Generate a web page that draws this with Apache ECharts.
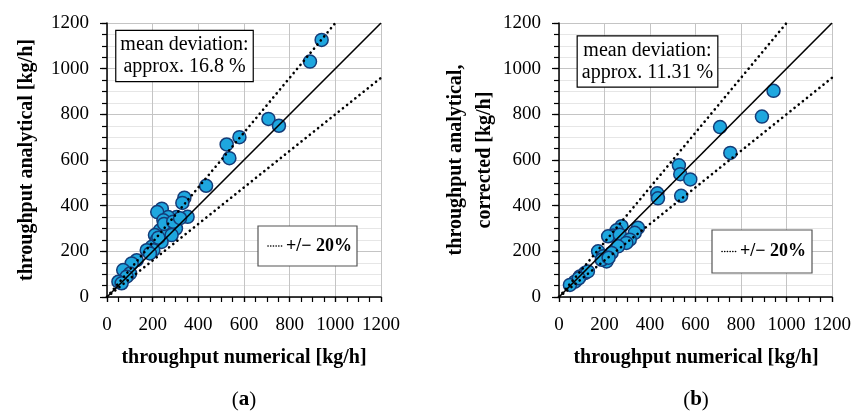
<!DOCTYPE html>
<html>
<head>
<meta charset="utf-8">
<script src="https://cdn.jsdelivr.net/npm/echarts@6/dist/echarts.min.js"></script>
<style>
html,body{margin:0;padding:0;background:#fff;}
#chart{width:854px;height:418px;}
</style>
</head>
<body>
<div id="chart"></div>
<script>
// throughput numerical vs analytical [kg/h]
const pointsA = [
  [940,1126],[889,1031],[707,780],[753,750],[580,700],[524,668],[536,608],[434,487],
  [339,435],[330,412],[240,387],[220,372],[353,351],[305,350],[268,350],[247,336],
  [268,314],[302,300],[232,292],[261,278],[283,271],[210,271],[218,249],[239,241],
  [196,220],[203,205],[174,205],[188,191],[130,161],[108,147],[71,118],[101,103],
  [86,89],[50,67],[64,60],[250,320],[290,330],[225,260],[320,345]
];
const pointsB = [
  [943,903],[892,790],[708,744],[753,631],[527,577],[533,538],[577,515],[537,443],
  [432,454],[435,432],[347,303],[333,281],[275,310],[253,292],[238,269],[216,266],
  [267,273],[311,251],[296,237],[260,222],[231,193],[172,200],[194,178],[209,156],
  [188,163],[218,172],[114,105],[92,90],[70,67],[48,53],[127,112],[87,82]
];
const deviations = ['16.8', '11.31'];
const band = 0.2;
const axisMax = 1200;
const tickStep = 200;
const minorStep = 50;

const font = 'Liberation Serif';
const grids = [
  {left:107, top:23, width:274, height:274},
  {left:559, top:23, width:274, height:274}
];

const xAxes = [], yAxes = [], series = [];
grids.forEach((g, i) => {
  xAxes.push({
    gridIndex:i, type:'value', min:0, max:axisMax, interval:tickStep,
    axisLine:{lineStyle:{color:'#000', width:1.5}},
    axisTick:{inside:false, length:5, lineStyle:{color:'#000', width:1.2}},
    axisLabel:{color:'#000', fontFamily:font, fontSize:19, margin:19, formatter:v => String(v)},
    splitLine:{show:true, lineStyle:{color:'#c4c4c4', width:1}}
  });
  xAxes.push({
    gridIndex:i, type:'value', min:0, max:axisMax, interval:minorStep,
    axisLine:{show:false},
    axisTick:{inside:true, length:5, lineStyle:{color:'#000', width:1.2}},
    axisLabel:{show:false}, splitLine:{show:false}
  });
  yAxes.push({
    gridIndex:i, type:'value', min:0, max:axisMax, interval:tickStep,
    axisLine:{show:true, lineStyle:{color:'#000', width:1.5}},
    axisTick:{show:true, inside:false, length:7, lineStyle:{color:'#000', width:1.2}},
    axisLabel:{color:'#000', fontFamily:font, fontSize:19, margin:18, formatter:v => String(v)},
    splitLine:{show:true, lineStyle:{color:'#c4c4c4', width:1}},
    minorSplitLine:{show:true, lineStyle:{color:'#e6e6e6', width:1}},
    minorTick:{show:false, splitNumber:4}
  });
  yAxes.push({
    gridIndex:i, type:'value', min:0, max:axisMax, interval:minorStep,
    axisLine:{show:false},
    axisTick:{show:true, inside:true, length:5, lineStyle:{color:'#000', width:1.2}},
    axisLabel:{show:false}, splitLine:{show:false}
  });

  const pts = i === 0 ? pointsA : pointsB;
  series.push({
    type:'scatter', xAxisIndex:i*2, yAxisIndex:i*2, data:pts, symbolSize:13, z:2,
    itemStyle:{color:'#1ea7df', borderColor:'#143c78', borderWidth:1.5, opacity:1}
  });
  series.push({
    type:'line', xAxisIndex:i*2, yAxisIndex:i*2, data:[[0,0],[axisMax,axisMax]],
    showSymbol:false, z:5, lineStyle:{color:'#000', width:1.6}
  });
  series.push({
    name:'+/− 20%', type:'line', xAxisIndex:i*2, yAxisIndex:i*2,
    data:[[0,0],[axisMax/(1+band),axisMax]],
    showSymbol:false, z:5, lineStyle:{color:'#000', width:2.6, type:[0.1,5.2], cap:'round'}
  });
  series.push({
    name:'+/− 20%', type:'line', xAxisIndex:i*2, yAxisIndex:i*2,
    data:[[0,0],[axisMax,axisMax*(1-band)]],
    showSymbol:false, z:5, lineStyle:{color:'#000', width:2.6, type:[0.1,5.2], cap:'round'}
  });
});

const noteBoxes = [
  {x:184.5, y:56},
  {x:647.5, y:61.5}
];
const legendBoxes = [
  {x:258, y:226, w:99, h:40},
  {x:712, y:230, w:100, h:43}
];

const graphic = [];
noteBoxes.forEach((b, i) => {
  graphic.push({
    type:'text', x:b.x, y:b.y, z:20,
    style:{
      text:'mean deviation:\napprox. ' + deviations[i] + ' %',
      font:'20px "' + font + '"', fill:'#000', align:'center', verticalAlign:'middle',
      lineHeight:22, backgroundColor:'#fff', borderColor:'#000', borderWidth:1.2,
      padding:[3,4,3,4]
    }
  });
});
legendBoxes.forEach(b => {
  graphic.push({
    type:'rect', z:20, shape:{x:b.x, y:b.y, width:b.w, height:b.h},
    style:{fill:'#fff', stroke:'#555', lineWidth:1.2}
  });
  graphic.push({
    type:'line', z:21, shape:{x1:b.x+10, y1:b.y+b.h/2, x2:b.x+26, y2:b.y+b.h/2},
    style:{stroke:'#000', lineWidth:1.6, lineDash:[0.1,2.6], lineCap:'round'}
  });
  graphic.push({
    type:'text', z:21, x:b.x+28, y:b.y+b.h/2,
    style:{text:'+/− 20%', font:'bold 18px "' + font + '"', fill:'#000', verticalAlign:'middle'}
  });
});
// axis titles
grids.forEach((g, i) => {
  graphic.push({
    type:'text', x:g.left + g.width/2, y:358,
    style:{text:'throughput numerical [kg/h]', font:'bold 20px "' + font + '"', fill:'#000',
      align:'center', verticalAlign:'middle'}
  });
  graphic.push({
    type:'text', x:g.left + g.width/2, y:400,
    style:{
      text:'{p|(}{b|' + (i === 0 ? 'a' : 'b') + '}{p|)}', align:'center', verticalAlign:'middle',
      rich:{p:{font:'21px "' + font + '"', fill:'#000'}, b:{font:'bold 21px "' + font + '"', fill:'#000'}}
    }
  });
});
graphic.push({
  type:'text', x:27, y:160, rotation:Math.PI/2,
  style:{text:'throughput analytical [kg/h]', font:'bold 20px "' + font + '"', fill:'#000',
    align:'center', verticalAlign:'middle'}
});
graphic.push({
  type:'text', x:470, y:160, rotation:Math.PI/2,
  style:{text:'throughput analytical,\ncorrected [kg/h]', font:'bold 20px "' + font + '"', fill:'#000',
    align:'center', verticalAlign:'middle', lineHeight:29}
});

const chart = echarts.init(document.getElementById('chart'), null, {renderer:'canvas'});
chart.setOption({
  animation:false,
  backgroundColor:'#fff',
  grid:grids,
  xAxis:xAxes,
  yAxis:yAxes,
  series:series,
  graphic:graphic
});
</script>
</body>
</html>
